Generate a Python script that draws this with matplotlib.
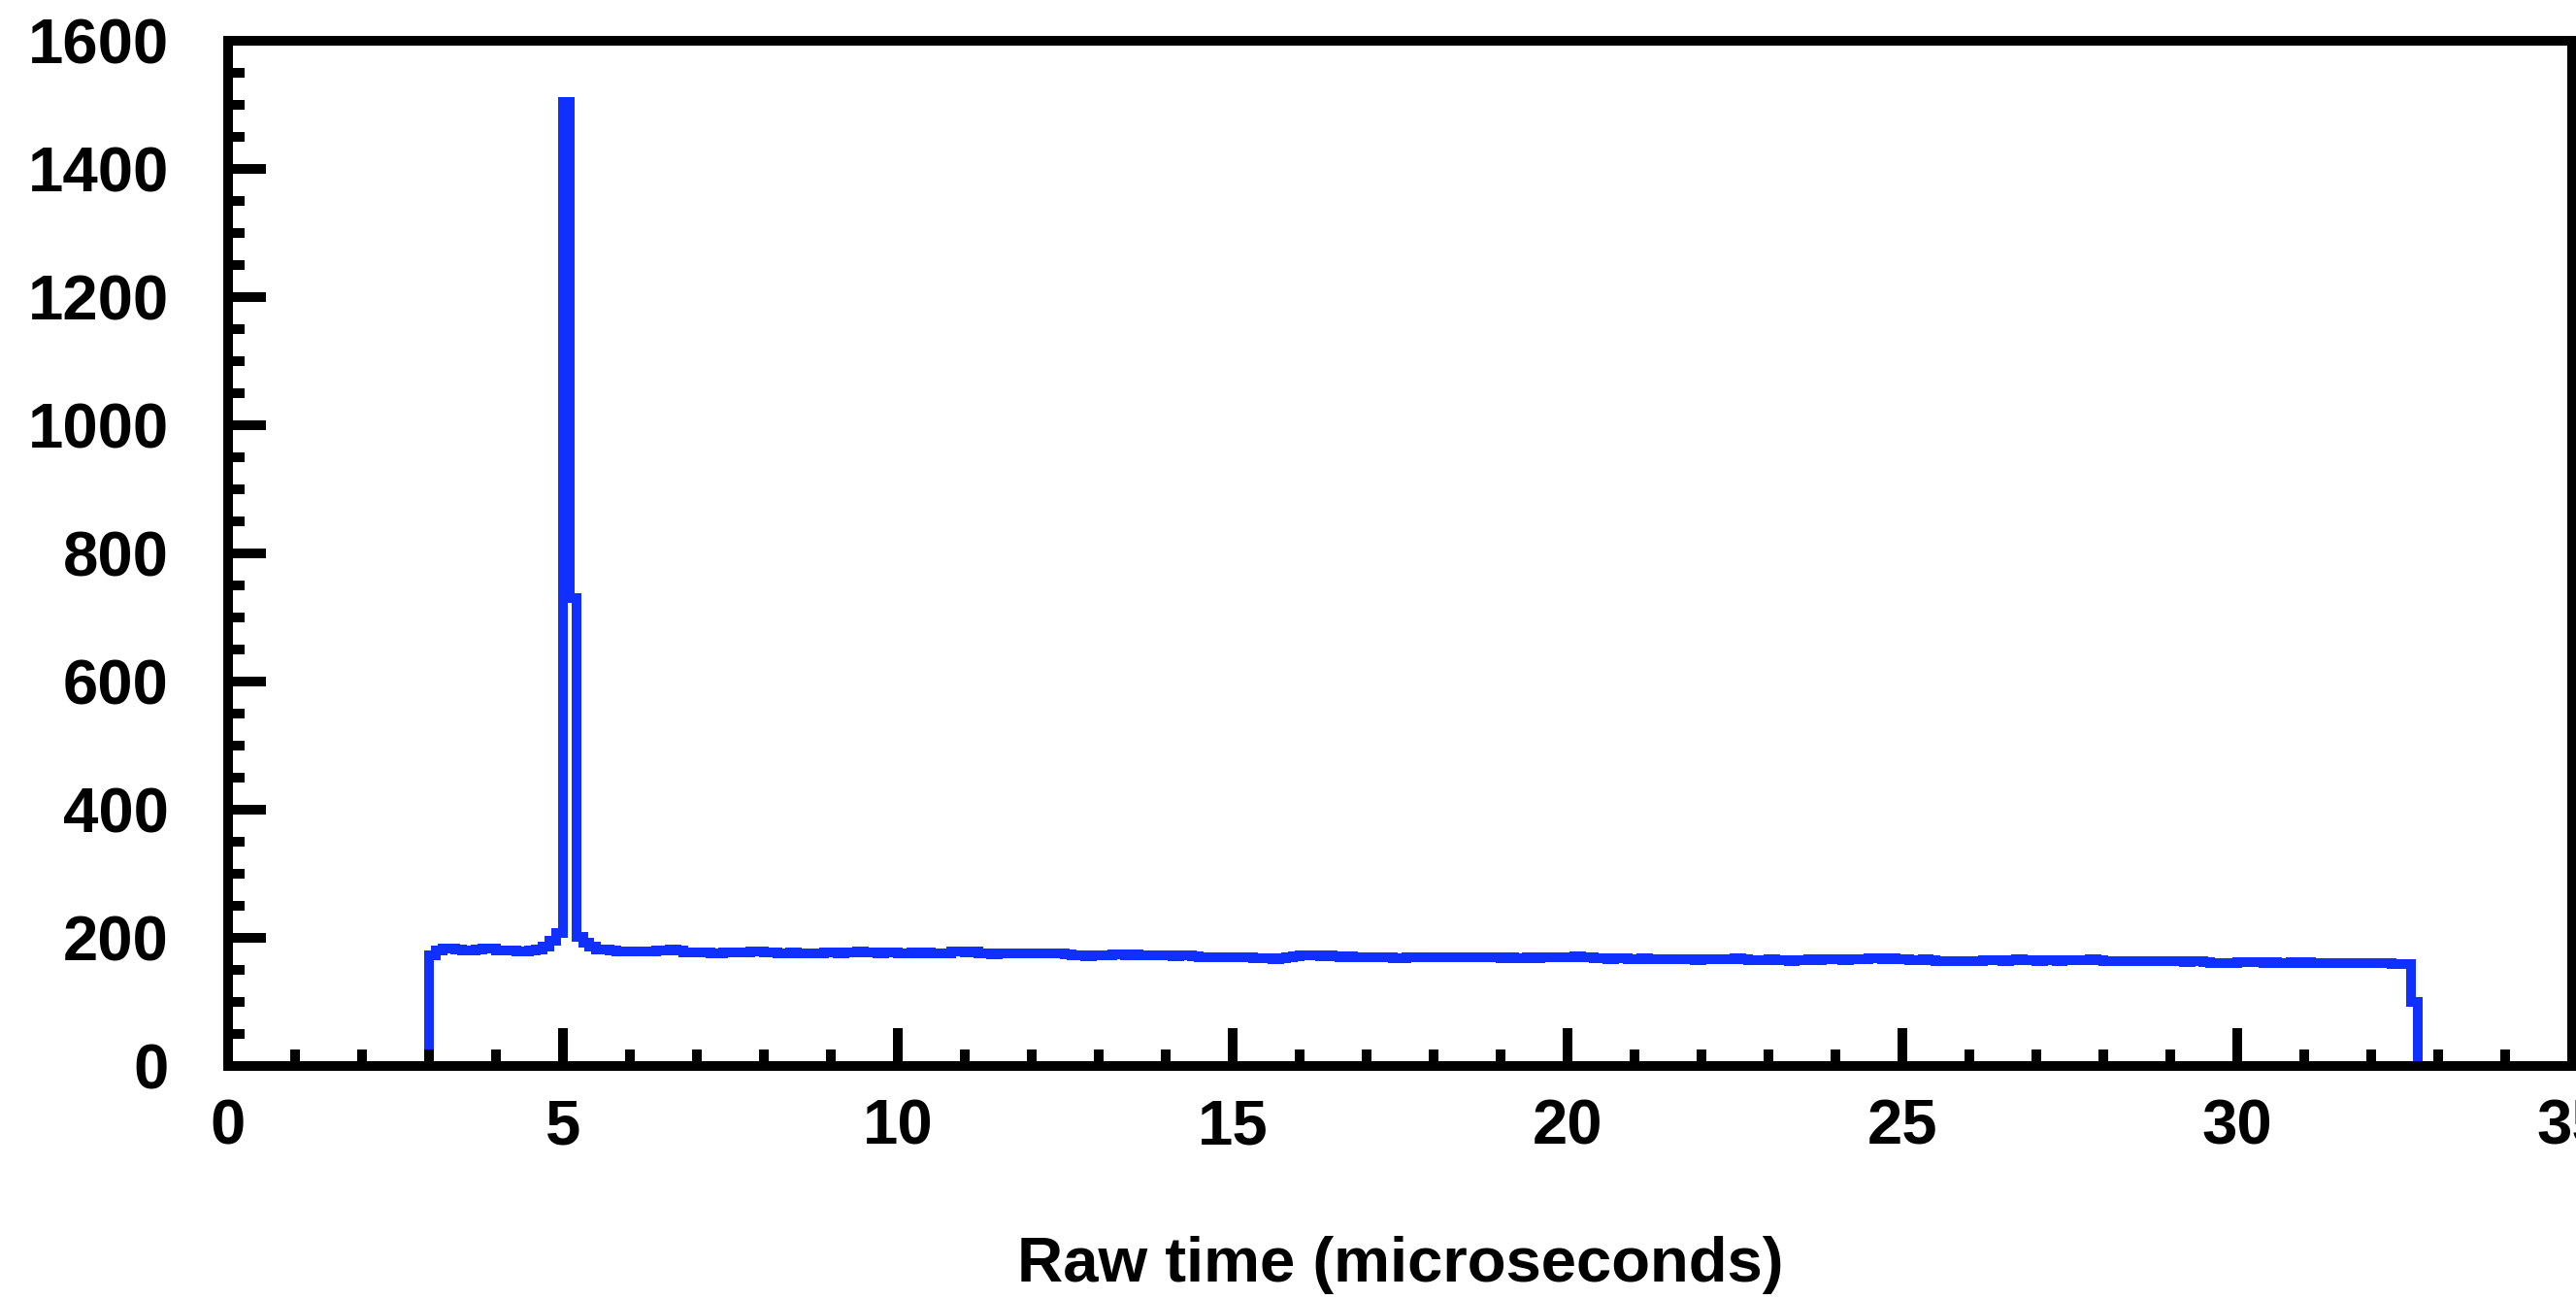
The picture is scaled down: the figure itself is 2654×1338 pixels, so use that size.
import matplotlib

matplotlib.use("Agg")
import matplotlib.pyplot as plt
import numpy as np
from matplotlib.ticker import MultipleLocator


OUT_PNG = "out.png"

# histogram binning (microseconds)
BIN_START = 3.0
BIN_WIDTH = 0.1

# counts per 0.1 us bin
RISE_COUNTS = [172, 180, 183, 183, 182, 181, 181, 182, 183, 183,
               180, 180, 180, 179, 179, 181, 182, 186, 196, 207]
PEAK_COUNTS = [1505, 730]
TAIL_COUNTS = [201, 193, 186, 182, 182, 181, 179, 179, 179, 179,
               179, 179, 180, 180, 182, 181, 177, 177, 177, 177,
               175, 175, 177, 177, 177, 177, 178]
FLAT_A = [179, 177, 177, 176, 176, 177, 176, 176, 175, 176,
          177, 177, 176, 177, 177, 178, 177, 177, 176, 177,
          177, 176, 176, 177, 176, 177, 176, 175, 176, 178,
          178, 177, 178, 176, 175, 174, 175, 175, 176, 176,
          176, 175, 176, 176, 175, 176, 174, 173, 173]
FLAT_B = [171, 172, 172, 173, 174, 174, 173, 174, 173, 172,
          172, 172, 172, 171, 172, 172, 171, 170, 170, 170,
          170, 170, 169, 170, 169, 168, 168, 168, 167, 168,
          169, 171, 172, 172, 172, 171, 172, 171, 170, 171,
          170, 170, 170, 170, 170, 169, 168, 168, 169]
FLAT_C = [170, 170, 169, 170, 170, 169, 169, 169, 170, 169,
          169, 169, 169, 168, 169, 168, 168, 169, 168, 170,
          170, 170, 169, 170, 171, 170, 170, 168, 168, 167,
          168, 168, 167, 167, 168, 167, 167, 166, 166, 167,
          166, 166, 165, 166, 167, 167, 166, 167, 168]
FLAT_D = [167, 165, 165, 165, 166, 165, 165, 164, 165, 165,
          166, 165, 166, 166, 166, 165, 166, 166, 167, 168,
          168, 167, 168, 167, 166, 165, 165, 166, 165, 164,
          163, 163, 163, 163, 164, 164, 165, 165, 165, 164,
          165, 166, 165, 165, 164, 165, 165, 164, 165]
FLAT_E = [165, 165, 165, 166, 165, 164, 164, 164, 163, 164,
          163, 163, 163, 163, 164, 163, 163, 162, 163, 163,
          162, 161, 160, 160, 161, 162, 162, 162, 162, 161,
          162, 161, 161, 162, 161, 162, 161, 161, 161, 161,
          160, 161, 160, 160, 161, 160, 160, 160, 159, 159, 159]
END_COUNTS = [100]

X_LABEL = "Raw time (microseconds)"
X_LIMITS = (0, 35)
Y_LIMITS = (0, 1600)

LINE_COLOR = "#1030ff"
FONT = "Liberation Sans"


def build_histogram():
    counts = np.array(RISE_COUNTS + PEAK_COUNTS + TAIL_COUNTS + FLAT_A
                      + FLAT_B + FLAT_C + FLAT_D + FLAT_E + END_COUNTS, dtype=float)
    edges = BIN_START + BIN_WIDTH * np.arange(len(counts) + 1)
    return counts, edges


def render(counts, edges):
    plt.rcParams["font.family"] = [FONT, "DejaVu Sans"]
    plt.rcParams["font.weight"] = "bold"

    fig = plt.figure(figsize=(26.54, 13.38), dpi=100)
    ax = fig.add_axes([0.0885, 0.1794, 0.90995, 0.78924])

    ax.stairs(counts, edges, baseline=0, color=LINE_COLOR, linewidth=7.2)

    ax.set_xlim(*X_LIMITS)
    ax.set_ylim(*Y_LIMITS)
    ax.xaxis.set_major_locator(MultipleLocator(5))
    ax.xaxis.set_minor_locator(MultipleLocator(1))
    ax.yaxis.set_major_locator(MultipleLocator(200))
    ax.yaxis.set_minor_locator(MultipleLocator(50))

    for spine in ax.spines.values():
        spine.set_linewidth(7.2)
    ax.set_axisbelow(False)

    ax.tick_params(which="both", direction="in", top=False, right=False,
                   width=7.2, labelsize=47)
    ax.tick_params(which="major", length=28)
    ax.tick_params(which="minor", length=12.5)
    ax.tick_params(axis="y", which="major", pad=44)
    ax.tick_params(axis="x", which="major", pad=24)
    for label in ax.get_xticklabels() + ax.get_yticklabels():
        label.set_fontweight("bold")

    ax.set_xlabel(X_LABEL, fontsize=47, fontweight="bold")
    ax.xaxis.set_label_coords(0.5, -0.194)
    ax.xaxis.label.set_va("center")

    fig.savefig(OUT_PNG, dpi=100)
    plt.close(fig)


def main():
    counts, edges = build_histogram()
    render(counts, edges)


if __name__ == "__main__":
    main()
